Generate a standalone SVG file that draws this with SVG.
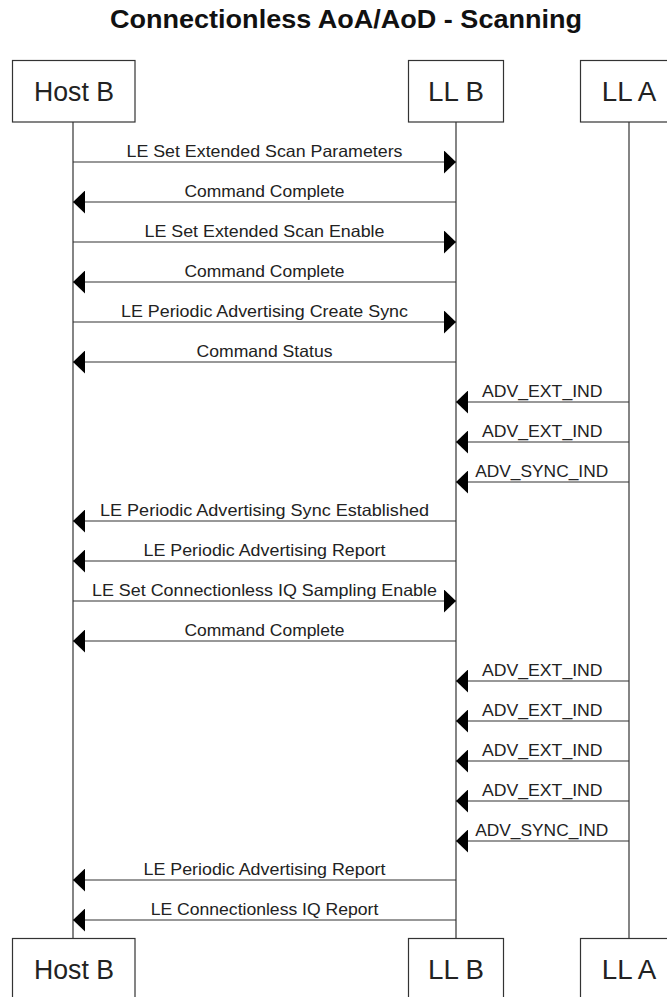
<svg xmlns="http://www.w3.org/2000/svg" width="667" height="997" viewBox="0 0 667 997">
  <style>
    .title { font-family: "Liberation Sans", Arial, sans-serif; font-size: 25.5px; font-weight: bold; fill: #111; }
    .box { fill: #fff; stroke: #333; stroke-width: 1.2; }
    .name { font-family: "Liberation Sans", Arial, sans-serif; font-size: 27px; fill: #222; text-anchor: middle; }
    .life { stroke: #333; stroke-width: 1.2; fill: none; }
    .msg { stroke: #333; stroke-width: 1.2; fill: none; marker-end: url(#head); }
    .lbl { font-family: "Liberation Sans", Arial, sans-serif; font-size: 16.5px; fill: #222; text-anchor: middle; }
  </style>
  <defs>
    <marker id="head" viewBox="0 0 12 23" refX="12" refY="11.5" markerWidth="12" markerHeight="23" markerUnits="userSpaceOnUse" orient="auto">
      <path d="M0,0 L12,11.5 L0,23 Z" fill="#000"/>
    </marker>
  </defs>

  <rect width="667" height="997" fill="#fff"/>

  <text class="title" x="346" y="27.5" text-anchor="middle" textLength="472" lengthAdjust="spacingAndGlyphs">Connectionless AoA/AoD - Scanning</text>

  <!-- lifelines -->
  <g id="lifelines">
    <line class="life" x1="73" y1="122" x2="73" y2="938"/>
    <line class="life" x1="456" y1="122" x2="456" y2="938"/>
    <line class="life" x1="629" y1="122" x2="629" y2="938"/>
  </g>

  <!-- participants, top and bottom -->
  <g id="host-b">
    <rect class="box" x="12.5" y="60.5" width="122.5" height="61.5"/>
    <text class="name" x="74" y="100.5" textLength="80" lengthAdjust="spacingAndGlyphs">Host B</text>
    <rect class="box" x="12.5" y="938.5" width="122.5" height="61.5"/>
    <text class="name" x="74" y="978.5" textLength="80" lengthAdjust="spacingAndGlyphs">Host B</text>
  </g>
  <g id="ll-b">
    <rect class="box" x="408.5" y="60.5" width="95" height="61.5"/>
    <text class="name" x="456" y="100.5" textLength="56" lengthAdjust="spacingAndGlyphs">LL B</text>
    <rect class="box" x="408.5" y="938.5" width="95" height="61.5"/>
    <text class="name" x="456" y="978.5" textLength="56" lengthAdjust="spacingAndGlyphs">LL B</text>
  </g>
  <g id="ll-a">
    <rect class="box" x="580.5" y="60.5" width="97" height="61.5"/>
    <text class="name" x="629" y="100.5" textLength="54.5" lengthAdjust="spacingAndGlyphs">LL A</text>
    <rect class="box" x="580.5" y="938.5" width="97" height="61.5"/>
    <text class="name" x="629" y="978.5" textLength="54.5" lengthAdjust="spacingAndGlyphs">LL A</text>
  </g>

  <!-- messages -->
  <g id="messages">
    <line class="msg" x1="73" y1="162" x2="456" y2="162"/>
    <text class="lbl" x="264.5" y="157" textLength="276" lengthAdjust="spacingAndGlyphs">LE Set Extended Scan Parameters</text>

    <line class="msg" x1="456" y1="202" x2="73" y2="202"/>
    <text class="lbl" x="264.5" y="197" textLength="160" lengthAdjust="spacingAndGlyphs">Command Complete</text>

    <line class="msg" x1="73" y1="242" x2="456" y2="242"/>
    <text class="lbl" x="264.5" y="237" textLength="240" lengthAdjust="spacingAndGlyphs">LE Set Extended Scan Enable</text>

    <line class="msg" x1="456" y1="282" x2="73" y2="282"/>
    <text class="lbl" x="264.5" y="277" textLength="160" lengthAdjust="spacingAndGlyphs">Command Complete</text>

    <line class="msg" x1="73" y1="322" x2="456" y2="322"/>
    <text class="lbl" x="264.5" y="317" textLength="287" lengthAdjust="spacingAndGlyphs">LE Periodic Advertising Create Sync</text>

    <line class="msg" x1="456" y1="362" x2="73" y2="362"/>
    <text class="lbl" x="264.5" y="357" textLength="136" lengthAdjust="spacingAndGlyphs">Command Status</text>

    <line class="msg" x1="629" y1="402" x2="456" y2="402"/>
    <text class="lbl" x="542.3" y="397" textLength="120.6" lengthAdjust="spacingAndGlyphs">ADV_EXT_IND</text>

    <line class="msg" x1="629" y1="442" x2="456" y2="442"/>
    <text class="lbl" x="542.3" y="437" textLength="120.6" lengthAdjust="spacingAndGlyphs">ADV_EXT_IND</text>

    <line class="msg" x1="629" y1="482" x2="456" y2="482"/>
    <text class="lbl" x="541.7" y="477" textLength="133" lengthAdjust="spacingAndGlyphs">ADV_SYNC_IND</text>

    <line class="msg" x1="456" y1="521" x2="73" y2="521"/>
    <text class="lbl" x="264.5" y="516" textLength="329" lengthAdjust="spacingAndGlyphs">LE Periodic Advertising Sync Established</text>

    <line class="msg" x1="456" y1="561" x2="73" y2="561"/>
    <text class="lbl" x="264.5" y="556" textLength="242" lengthAdjust="spacingAndGlyphs">LE Periodic Advertising Report</text>

    <line class="msg" x1="73" y1="601" x2="456" y2="601"/>
    <text class="lbl" x="264.5" y="596" textLength="345" lengthAdjust="spacingAndGlyphs">LE Set Connectionless IQ Sampling Enable</text>

    <line class="msg" x1="456" y1="641" x2="73" y2="641"/>
    <text class="lbl" x="264.5" y="636" textLength="160" lengthAdjust="spacingAndGlyphs">Command Complete</text>

    <line class="msg" x1="629" y1="681" x2="456" y2="681"/>
    <text class="lbl" x="542.3" y="676" textLength="120.6" lengthAdjust="spacingAndGlyphs">ADV_EXT_IND</text>

    <line class="msg" x1="629" y1="721" x2="456" y2="721"/>
    <text class="lbl" x="542.3" y="716" textLength="120.6" lengthAdjust="spacingAndGlyphs">ADV_EXT_IND</text>

    <line class="msg" x1="629" y1="761" x2="456" y2="761"/>
    <text class="lbl" x="542.3" y="756" textLength="120.6" lengthAdjust="spacingAndGlyphs">ADV_EXT_IND</text>

    <line class="msg" x1="629" y1="801" x2="456" y2="801"/>
    <text class="lbl" x="542.3" y="796" textLength="120.6" lengthAdjust="spacingAndGlyphs">ADV_EXT_IND</text>

    <line class="msg" x1="629" y1="841" x2="456" y2="841"/>
    <text class="lbl" x="541.7" y="836" textLength="133" lengthAdjust="spacingAndGlyphs">ADV_SYNC_IND</text>

    <line class="msg" x1="456" y1="880" x2="73" y2="880"/>
    <text class="lbl" x="264.5" y="875" textLength="242" lengthAdjust="spacingAndGlyphs">LE Periodic Advertising Report</text>

    <line class="msg" x1="456" y1="920" x2="73" y2="920"/>
    <text class="lbl" x="264.5" y="915" textLength="227.6" lengthAdjust="spacingAndGlyphs">LE Connectionless IQ Report</text>
  </g>
</svg>
